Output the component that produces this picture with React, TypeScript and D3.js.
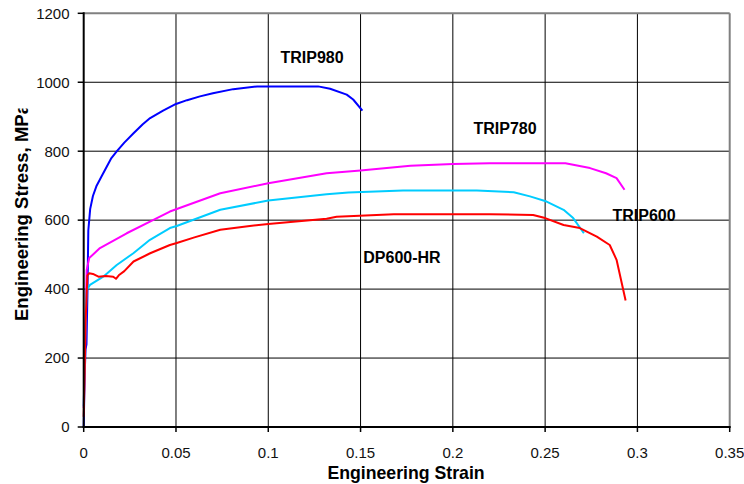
import React from "react";
import * as d3 from "d3";

const xTicks = [0, 0.05, 0.1, 0.15, 0.2, 0.25, 0.3, 0.35];
const xTickLabels = ["0", "0.05", "0.1", "0.15", "0.2", "0.25", "0.3", "0.35"];
const yTicks = [0, 200, 400, 600, 800, 1000, 1200];
const yTickLabels = ["0", "200", "400", "600", "800", "1000", "1200"];

const trip980: [number, number][] = [
  [0, 0], [0.0005, 150], [0.001, 225], [0.0015, 240], [0.002, 380], [0.0025, 570],
  [0.0035, 632], [0.005, 670], [0.007, 700], [0.01, 730], [0.015, 780], [0.018, 800],
  [0.022, 825], [0.027, 852], [0.032, 878], [0.036, 896], [0.043, 918], [0.05, 937],
  [0.056, 948], [0.063, 959], [0.07, 968], [0.081, 980], [0.094, 988], [0.127, 988],
  [0.1335, 981], [0.1425, 964], [0.146, 950], [0.151, 918],
];

const trip780: [number, number][] = [
  [0, 55], [0.001, 300], [0.0016, 455], [0.003, 490], [0.0088, 519], [0.0233, 562],
  [0.0359, 596], [0.0467, 625], [0.074, 678], [0.1, 707], [0.1316, 736], [0.15, 744],
  [0.177, 758], [0.2, 763], [0.22, 765], [0.261, 765], [0.2743, 751], [0.283, 736],
  [0.2887, 722], [0.293, 688],
];

const trip600: [number, number][] = [
  [0, 60], [0.001, 300], [0.0016, 397], [0.0034, 412], [0.0106, 436], [0.0179, 470],
  [0.0269, 504], [0.0359, 543], [0.0467, 577], [0.0504, 583], [0.074, 630], [0.1, 657],
  [0.1316, 675], [0.1434, 680], [0.173, 686], [0.213, 686], [0.233, 681], [0.2418, 669],
  [0.2508, 654], [0.26, 630], [0.2652, 606], [0.271, 562],
];

const dp600hr: [number, number][] = [
  [0, 30], [0.0005, 150], [0.001, 300], [0.002, 440], [0.003, 446], [0.005, 444],
  [0.008, 436], [0.012, 438], [0.016, 436], [0.0175, 430], [0.019, 440], [0.022, 452],
  [0.027, 480], [0.036, 504], [0.0467, 528], [0.05, 533], [0.06, 550], [0.074, 572],
  [0.09, 583], [0.1, 589], [0.1316, 604], [0.137, 610], [0.168, 617], [0.22, 617],
  [0.2435, 615], [0.25, 606], [0.26, 586], [0.2688, 577], [0.278, 552], [0.285, 528],
  [0.2887, 485], [0.2936, 367],
];

const seriesList = [
  { name: "TRIP980", data: trip980, color: "#0000FF", lx: 280.5, ly: 63.3 },
  { name: "TRIP780", data: trip780, color: "#FF00FF", lx: 473.5, ly: 133.5 },
  { name: "TRIP600", data: trip600, color: "#00CCFF", lx: 612.5, ly: 221 },
  { name: "DP600-HR", data: dp600hr, color: "#FF0000", lx: 363.3, ly: 263.3 },
];

const FONT = "'Liberation Sans', Arial, Helvetica, sans-serif";

export default function App() {
  const x = d3.scaleLinear().domain([0, 0.35]).range([83.7, 729.7]);
  const y = d3.scaleLinear().domain([0, 1200]).range([427, 13.3]);
  const line = d3
    .line<[number, number]>()
    .x((d) => x(d[0]))
    .y((d) => y(d[1]));

  const x0 = x(0), x1 = x(0.35), y0 = y(0), y1 = y(1200);

  return (
    <svg
      width={744}
      height={484}
      style={{ position: "absolute", left: 0, top: 0, background: "#fff" }}
      fontFamily={FONT}
    >
      <defs>
        <clipPath id="ytitleclip">
          <rect x={0} y={108.5} width={40} height={375} />
        </clipPath>
      </defs>
      <rect x={0} y={0} width={744} height={484} fill="#fff" />
      {/* gridlines */}
      {yTicks.slice(1, -1).map((t) => (
        <line key={"gy" + t} x1={x0} x2={x1} y1={y(t)} y2={y(t)} stroke="#000" strokeWidth={1} />
      ))}
      {xTicks.slice(1, -1).map((t) => (
        <line key={"gx" + t} x1={x(t)} x2={x(t)} y1={y0} y2={y1} stroke="#000" strokeWidth={1} />
      ))}
      {/* top / right border */}
      <line x1={x0} x2={x1} y1={y1} y2={y1} stroke="#808080" strokeWidth={2} />
      <line x1={x1} x2={x1} y1={y1} y2={y0} stroke="#808080" strokeWidth={2} />
      {/* series */}
      {seriesList.map((s) => (
        <path key={s.name} d={line(s.data) || ""} fill="none" stroke={s.color} strokeWidth={2} strokeLinejoin="round" />
      ))}
      {/* axes */}
      <line x1={x0} x2={x0} y1={y1 - 1} y2={y0 + 1} stroke="#000" strokeWidth={2} />
      <line x1={x0 - 1} x2={x1 + 1} y1={y0} y2={y0} stroke="#000" strokeWidth={2} />
      {yTicks.map((t, i) => (
        <g key={"yt" + t}>
          <line x1={x0 - 6} x2={x0} y1={y(t)} y2={y(t)} stroke="#000" strokeWidth={1.5} />
          <text x={69.5} y={y(t) + 5.3} textAnchor="end" fontSize={15} fill="#111">
            {yTickLabels[i]}
          </text>
        </g>
      ))}
      {xTicks.map((t, i) => (
        <g key={"xt" + t}>
          <line x1={x(t)} x2={x(t)} y1={y0} y2={y0 + 5} stroke="#000" strokeWidth={1.5} />
          <text x={x(t)} y={457.5} textAnchor="middle" fontSize={15} fill="#111">
            {xTickLabels[i]}
          </text>
        </g>
      ))}
      {/* series labels */}
      {seriesList.map((s) => (
        <text key={"l" + s.name} x={s.lx} y={s.ly} fontSize={16} fontWeight="bold" fill="#000">
          {s.name}
        </text>
      ))}
      {/* axis titles */}
      <text x={406} y={478.5} textAnchor="middle" fontSize={17.7} fontWeight="bold" fill="#000">
        Engineering Strain
      </text>
      <g clipPath="url(#ytitleclip)">
        <text
          transform={`translate(28.3,321) rotate(-90)`}
          x={0}
          y={0}
          textAnchor="start"
          fontSize={18.5}
          fontWeight="bold"
          fill="#000"
        >
          Engineering Stress, MPa
        </text>
      </g>
    </svg>
  );
}
